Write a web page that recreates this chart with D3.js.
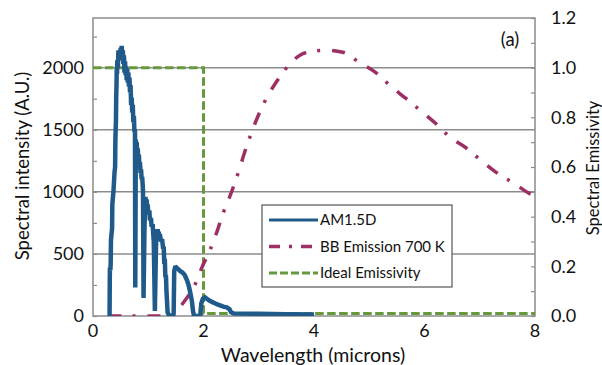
<!DOCTYPE html>
<html>
<head>
<meta charset="utf-8">
<script src="https://cdn.jsdelivr.net/npm/d3@7"></script>
<style>
  html, body { margin: 0; padding: 0; background: #fff; }
  svg { display: block; font-family: Lato, "Open Sans", sans-serif; }
</style>
</head>
<body>
<svg id="chart" width="602" height="365"></svg>
<script>
// Direct solar spectrum AM1.5D (wavelength in microns, intensity in A.U.)
const amWavelength = [
  0.30, 0.303, 0.306, 0.315, 0.32, 0.325, 0.335, 0.345, 0.35, 0.36,
  0.37, 0.38, 0.39, 0.40, 0.405, 0.41, 0.415, 0.42, 0.425, 0.43,
  0.435, 0.44, 0.45, 0.46, 0.47, 0.48, 0.49, 0.50, 0.51, 0.52,
  0.53, 0.54, 0.55, 0.56, 0.57, 0.58, 0.59, 0.60, 0.61, 0.62,
  0.63, 0.64, 0.65, 0.66, 0.67, 0.68, 0.69, 0.70, 0.71, 0.72,
  0.73, 0.74, 0.75, 0.76, 0.765, 0.775, 0.78, 0.79, 0.80, 0.81,
  0.82, 0.83, 0.84, 0.85, 0.86, 0.87, 0.88, 0.89, 0.90, 0.905,
  0.915, 0.93, 0.94, 0.95, 0.96, 0.97, 0.98, 0.99, 1.00, 1.02,
  1.03, 1.05, 1.06, 1.08, 1.09, 1.10, 1.12, 1.14, 1.15, 1.16,
  1.17, 1.18, 1.19, 1.20, 1.21, 1.23, 1.25, 1.27, 1.28, 1.29,
  1.30, 1.31, 1.32, 1.33, 1.35, 1.37, 1.40, 1.45, 1.46, 1.47,
  1.49, 1.52, 1.55, 1.58, 1.62, 1.66, 1.70, 1.73, 1.76, 1.79,
  1.81, 1.83, 1.94, 1.96, 1.99, 2.03, 2.07, 2.12, 2.18, 2.24,
  2.30, 2.36, 2.42, 2.47, 2.50, 2.55, 3.0, 3.5, 4.0
];
const amIntensity = [
  0, 250, 390, 370, 420, 610, 660, 700, 900, 950,
  1000, 1080, 1160, 1200, 1420, 1500, 1560, 1760, 1850, 2000,
  1950, 2060, 2000, 2140, 2080, 2120, 2060, 2160, 2120, 2175,
  2090, 2140, 2030, 2100, 1960, 2050, 1940, 2010, 1900, 1990,
  1880, 1960, 1850, 1920, 1800, 1860, 1700, 1760, 1640, 1700,
  1560, 1610, 1480, 1500, 230, 1420, 1360, 1400, 1320, 1350,
  1260, 1300, 1200, 1240, 1150, 1180, 1100, 1120, 1050, 1000,
  145, 650, 880, 960, 900, 940, 860, 900, 820, 850,
  770, 790, 720, 740, 660, 600, 40, 560, 680, 640,
  700, 650, 680, 620, 660, 600, 620, 540, 560, 420,
  460, 310, 330, 200, 30, 10, 0, 0, 20, 360,
  400, 385, 375, 360, 350, 330, 290, 250, 190, 120,
  40, 0, 0, 100, 140, 150, 135, 120, 108, 95,
  85, 75, 70, 55, 30, 20, 18, 15, 12
];

// Black-body emission at 700 K (A.U., same scale as the solar spectrum)
const bbWavelength = [0.28,1.40,1.50,1.63,1.76,1.86,1.97,2.12,2.26,2.35,2.47,2.59,2.79,3.02,3.37,3.60,3.84,4.20,4.52,4.83,5.12,5.41,5.67,5.94,6.21,6.46,6.75,7.03,7.31,7.62,7.91,8.00];
const bbIntensity  = [0,0,30,105,185,266,390,532,700,822,955,1102,1379,1645,1919,2048,2119,2140,2124,2040,1960,1842,1750,1650,1548,1440,1355,1250,1153,1068,984,965];

// Ideal step emissivity (right axis)
const emWavelength = [0, 2, 2, 8];
const emValue      = [1.0, 1.0, 0.01, 0.01];

const xTickValues     = [0, 2, 4, 6, 8];
const leftTickValues  = [0, 500, 1000, 1500, 2000];
const rightTickValues = [0, 0.2, 0.4, 0.6, 0.8, 1.0, 1.2];

const seriesNames = ["AM1.5D", "BB Emission 700 K", "Ideal Emissivity"];
const seriesColors = ["#1f5a8b", "#9e2f64", "#66993d"];

const svg = d3.select("#chart");
const plot = { left: 93, right: 535, top: 18, bottom: 316 };

const x = d3.scaleLinear().domain([0, 8]).range([plot.left, plot.right]);
const yL = d3.scaleLinear().domain([0, 2400]).range([plot.bottom, plot.top]);
const yR = d3.scaleLinear().domain([0, 1.2]).range([plot.bottom, plot.top]);

const gridColor = "#8c8c8c";
const labelColor = "#111";

// horizontal gridlines
svg.append("g")
  .selectAll("line")
  .data(leftTickValues.filter(d => d > 0))
  .join("line")
  .attr("x1", plot.left).attr("x2", plot.right)
  .attr("y1", d => yL(d)).attr("y2", d => yL(d))
  .attr("stroke", gridColor).attr("stroke-width", 1.5);

// left axis: minor inner ticks every 250
const leftAxis = d3.axisRight(yL).tickValues(d3.range(0, 2401, 250)).tickSize(4).tickFormat("");
svg.append("g").attr("transform", `translate(${plot.left},0)`).call(leftAxis)
  .call(g => g.select(".domain").remove())
  .selectAll("line").attr("stroke", gridColor).attr("stroke-width", 1.2);

// right axis: inner ticks every 0.1
const rightAxis = d3.axisLeft(yR).tickValues(d3.range(0, 12.5, 1).map(v => v / 10)).tickSize(4).tickFormat("");
svg.append("g").attr("transform", `translate(${plot.right},0)`).call(rightAxis)
  .call(g => g.select(".domain").remove())
  .selectAll("line").attr("stroke", gridColor).attr("stroke-width", 1.2);

// plot frame
svg.append("rect")
  .attr("x", plot.left).attr("y", plot.top)
  .attr("width", plot.right - plot.left).attr("height", plot.bottom - plot.top)
  .attr("fill", "none").attr("stroke", gridColor).attr("stroke-width", 1.5);

// tick labels
svg.append("g").selectAll("text").data(leftTickValues).join("text")
  .attr("x", 84).attr("y", d => yL(d)).attr("dy", "0.35em")
  .attr("text-anchor", "end").attr("font-size", 18).attr("fill", labelColor)
  .text(d => d);

svg.append("g").selectAll("text").data(rightTickValues).join("text")
  .attr("x", 551).attr("y", d => yR(d)).attr("dy", "0.35em")
  .attr("text-anchor", "start").attr("font-size", 18).attr("fill", labelColor)
  .text(d => d3.format(".1f")(d));

svg.append("g").selectAll("text").data(xTickValues).join("text")
  .attr("x", d => x(d)).attr("y", 331).attr("dy", "0.35em")
  .attr("text-anchor", "middle").attr("font-size", 18).attr("fill", labelColor)
  .text(d => d);

// axis titles
svg.append("text")
  .attr("transform", `translate(23,166) rotate(-90)`)
  .attr("text-anchor", "middle").attr("dy", "0.35em")
  .attr("font-size", 18.5).attr("fill", labelColor)
  .text("Spectral intensity (A.U.)");

svg.append("text")
  .attr("transform", `translate(593,168) rotate(-90)`)
  .attr("text-anchor", "middle").attr("dy", "0.35em")
  .attr("font-size", 16.5).attr("fill", labelColor)
  .text("Spectral Emissivity");

svg.append("text")
  .attr("x", 313).attr("y", 355).attr("dy", "0.35em")
  .attr("text-anchor", "middle").attr("font-size", 19.5).attr("fill", labelColor)
  .text("Wavelength (microns)");

svg.append("text")
  .attr("x", 510).attr("y", 40).attr("dy", "0.35em")
  .attr("text-anchor", "middle").attr("font-size", 18.5).attr("fill", labelColor)
  .text("(a)");

// series, clipped to the plot box
svg.append("clipPath").attr("id", "plotClip")
  .append("rect").attr("x", plot.left).attr("y", plot.top - 4)
  .attr("width", plot.right - plot.left).attr("height", plot.bottom - plot.top + 4);

const lineL = d3.line().x(d => x(d[0])).y(d => yL(d[1]));
const lineR = d3.line().x(d => x(d[0])).y(d => yR(d[1]));

const g = svg.append("g").attr("clip-path", "url(#plotClip)");

g.append("path")
  .datum(d3.zip(emWavelength, emValue))
  .attr("d", lineR)
  .attr("fill", "none").attr("stroke", seriesColors[2]).attr("stroke-width", 3)
  .attr("stroke-dasharray", "8.5,3.5");

g.append("path")
  .datum(d3.zip(bbWavelength, bbIntensity))
  .attr("d", d3.line().curve(d3.curveMonotoneX).x(d => x(d[0])).y(d => yL(d[1])))
  .attr("fill", "none").attr("stroke", seriesColors[1]).attr("stroke-width", 3.5)
  .attr("stroke-dasharray", "13,11,3,12");

g.append("path")
  .datum(d3.zip(amWavelength, amIntensity))
  .attr("d", lineL)
  .attr("fill", "none").attr("stroke", seriesColors[0]).attr("stroke-width", 4.5)
  .attr("stroke-linejoin", "miter").attr("stroke-miterlimit", 2);

// legend
const legend = svg.append("g");
legend.append("rect")
  .attr("x", 262).attr("y", 205).attr("width", 190).attr("height", 82)
  .attr("fill", "#fff").attr("stroke", "#555").attr("stroke-width", 1.2);

const legendDash = [null, "11,9,3,9", "8,3"];
const legendWidth = [3, 3.5, 3];
seriesNames.forEach((name, i) => {
  const yy = 220 + i * 26.5;
  legend.append("line")
    .attr("x1", 269).attr("x2", 318).attr("y1", yy).attr("y2", yy)
    .attr("stroke", seriesColors[i]).attr("stroke-width", legendWidth[i])
    .attr("stroke-dasharray", legendDash[i]);
  legend.append("text")
    .attr("x", 320).attr("y", yy).attr("dy", "0.35em")
    .attr("font-size", 15).attr("fill", labelColor)
    .text(name);
});
</script>
</body>
</html>
